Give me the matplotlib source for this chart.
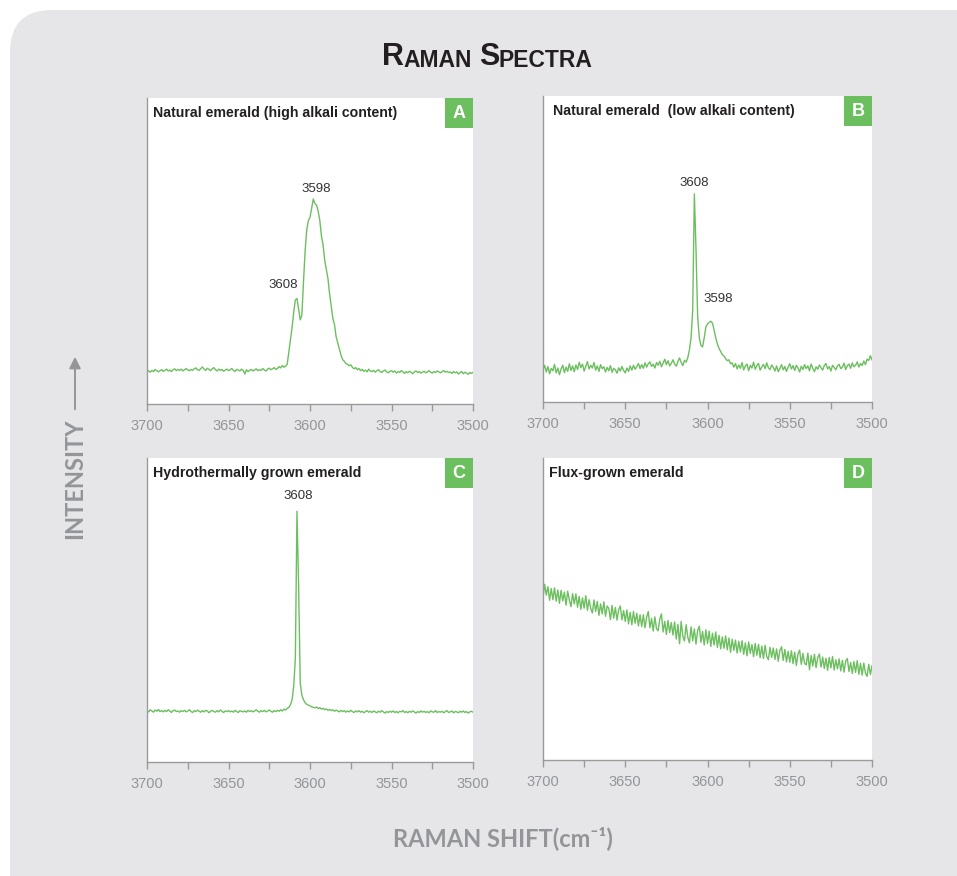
import matplotlib.pyplot as plt
from matplotlib.patches import FancyBboxPatch, Rectangle, FancyArrowPatch
from matplotlib.text import Annotation
import numpy as np

# Raman shift grid in cm-1, 1 cm-1 steps from 3700 down to 3500
shift = np.arange(3700, 3499, -1)

# intensities (arbitrary units, 0-100 scale) read point by point
natural_high = [
    11.2, 10.8, 10.4, 11.0, 10.6, 11.3, 10.9, 10.5, 10.9, 11.2,
    10.7, 11.0, 11.4, 10.8, 11.1, 10.6, 11.2, 11.5, 10.9, 11.3,
    11.0, 11.4, 10.8, 11.2, 11.6, 11.1, 10.9, 11.3, 11.0, 11.5,
    11.8, 11.2, 11.0, 11.6, 12.1, 11.4, 11.0, 11.7, 11.3, 10.9,
    11.5, 11.9, 11.2, 10.8, 11.4, 11.0, 11.3, 10.7, 11.1, 11.4,
    10.9, 11.2, 11.6, 11.0, 10.6, 11.3, 11.1, 10.8, 11.4, 11.0,
    9.8, 11.2, 10.6, 11.0, 11.3, 10.8, 11.1, 11.5, 10.9, 11.2,
    11.0, 11.6, 11.1, 10.8, 11.4, 11.7, 11.2, 11.5, 11.9, 11.3,
    11.6, 12.2, 11.8, 12.6, 12.0, 12.4, 13.0, 17.0, 21.0, 25.0,
    30.0, 34.0, 34.5, 31.0, 27.5, 29.0, 40.0, 50.0, 57.0, 60.0,
    61.0, 64.0, 67.0, 65.5, 65.0, 63.0, 60.0, 55.0, 52.0, 47.0,
    44.0, 41.0, 36.0, 32.0, 28.0, 26.0, 22.0, 20.0, 18.0, 16.0,
    14.5, 14.0, 13.2, 13.0, 12.5, 12.8, 12.0, 11.5, 11.9, 11.2,
    11.6, 10.9, 11.3, 10.7, 11.1, 10.5, 11.4, 10.8, 10.6, 11.0,
    10.4, 10.9, 11.2, 10.6, 10.3, 10.8, 11.1, 10.5, 10.2, 10.7,
    10.9, 10.4, 10.8, 10.1, 10.6, 10.3, 10.9, 10.5, 10.0, 10.6,
    10.2, 10.7, 10.4, 9.9, 10.5, 10.8, 10.3, 10.6, 10.1, 10.4,
    10.7, 10.2, 10.5, 10.9, 10.4, 10.1, 10.6, 10.3, 10.8, 10.5,
    10.2, 10.6, 10.9, 10.4, 10.7, 10.3, 10.5, 10.0, 10.6, 10.2,
    10.5, 9.8, 10.3, 10.6, 9.9, 10.4, 10.1, 9.7, 10.3, 10.0,
    10.4,
]

natural_low = [
    10.5, 12.0, 9.8, 11.6, 9.2, 11.0, 10.2, 12.3, 9.5, 11.1,
    8.9, 10.8, 12.0, 9.6, 11.4, 10.0, 12.5, 10.3, 11.8, 9.9,
    12.1, 10.6, 13.0, 11.2, 12.4, 10.1, 11.7, 13.2, 10.8, 12.0,
    11.1, 12.9, 10.4, 11.8, 10.0, 12.2, 10.9, 11.5, 9.8, 11.3,
    10.2, 11.9, 9.7, 11.0, 10.5, 9.4, 11.2, 10.1, 11.6, 10.3,
    9.5, 11.1, 10.0, 11.8, 10.4, 12.0, 10.7, 11.5, 12.6, 10.9,
    12.2, 11.0, 12.8, 11.4, 12.5, 13.1, 11.6, 12.4, 11.1, 12.9,
    12.0, 13.3, 11.5, 12.7, 14.0, 12.2, 13.5, 11.8, 12.6, 13.8,
    12.4, 11.7, 13.2, 14.4, 12.9, 11.9, 13.6, 13.0, 14.5, 17.0,
    21.0, 30.0, 68.0, 50.0, 28.0, 21.0, 18.5, 18.0, 21.0, 24.5,
    25.5, 26.0, 26.4, 25.8, 23.5, 21.0, 19.0, 17.5, 16.5, 15.5,
    15.0, 14.2, 13.5, 13.8, 12.5, 12.8, 11.4, 12.6, 10.8, 12.1,
    11.0, 12.9, 10.5, 11.8, 12.4, 10.2, 12.0, 11.1, 13.0, 10.7,
    11.9, 12.6, 10.4, 11.5, 12.3, 10.9, 12.8, 11.2, 10.6, 12.1,
    11.3, 10.1, 11.8, 9.9, 11.0, 12.2, 10.5, 11.6, 10.0, 11.4,
    12.5, 10.8, 11.9, 10.3, 12.0, 11.1, 9.8, 11.7, 10.6, 12.2,
    10.9, 11.8, 10.2, 12.4, 11.0, 9.9, 11.5, 10.7, 12.1, 11.2,
    10.4, 11.9, 12.6, 10.8, 11.6, 10.1, 12.0, 11.3, 10.5, 11.8,
    12.3, 10.9, 11.4, 12.7, 10.6, 11.9, 12.4, 11.0, 12.8, 11.5,
    12.0, 13.1, 11.4, 12.6, 11.9, 13.4, 12.2, 14.0, 13.6, 15.1,
    13.8,
]

hydrothermal = [
    17.0, 16.5, 17.2, 16.8, 16.4, 17.1, 16.7, 17.3, 16.6, 16.9,
    16.5, 17.0, 16.6, 17.2, 16.8, 16.3, 16.9, 17.1, 16.6, 16.8,
    16.4, 16.9, 16.6, 17.0, 16.5, 16.8, 17.2, 16.6, 16.3, 16.9,
    16.6, 17.1, 16.7, 16.4, 16.9, 16.5, 17.0, 16.8, 16.2, 16.7,
    17.0, 16.6, 16.4, 16.9, 16.5, 17.1, 16.7, 16.3, 16.8, 16.6,
    16.9, 16.5, 16.8, 16.4, 17.0, 16.6, 16.3, 16.9, 16.7, 16.5,
    16.8, 16.4, 17.0, 16.6, 16.9, 16.5, 16.8, 17.2, 16.7, 16.4,
    16.9, 16.6, 17.0, 16.5, 16.8, 17.1, 16.7, 16.4, 16.9, 16.6,
    17.0, 16.7, 17.2, 16.8, 17.4, 17.1, 17.6, 18.0, 18.8, 20.5,
    25.0, 34.0, 82.5, 58.0, 26.0, 22.0, 20.5, 19.5, 19.0, 18.7,
    18.5, 18.2, 18.0, 17.8, 18.1, 17.6, 17.9, 17.4, 17.7, 17.2,
    17.5, 17.0, 17.3, 16.9, 17.2, 16.7, 17.1, 16.8, 16.5, 17.0,
    16.6, 16.9, 16.4, 16.8, 16.5, 17.0, 16.6, 16.3, 16.8, 16.5,
    16.9, 16.4, 16.7, 16.2, 16.6, 16.9, 16.4, 16.7, 16.3, 16.8,
    16.5, 16.2, 16.7, 16.4, 16.9, 16.5, 16.1, 16.6, 16.3, 16.7,
    16.4, 16.8, 16.3, 16.6, 16.2, 16.7, 16.5, 16.9, 16.3, 16.6,
    16.2, 16.7, 16.4, 16.8, 16.5, 16.1, 16.6, 16.3, 16.8, 16.4,
    16.7, 16.3, 16.6, 16.2, 16.8, 16.5, 16.4, 16.9, 16.3, 16.6,
    16.4, 16.7, 16.2, 16.6, 16.9, 16.3, 16.5, 16.8, 16.2, 16.6,
    16.5, 16.2, 16.7, 16.4, 16.8, 16.3, 16.6, 16.1, 16.5, 16.7,
    16.4,
]

flux_grown = [
    53.8, 58.2, 54.6, 57.4, 52.9, 56.8, 53.1, 57.0, 52.6, 56.3,
    51.9, 56.2, 52.7, 55.6, 51.3, 55.9, 53.0, 50.8, 55.1, 51.7,
    55.0, 50.6, 54.2, 49.9, 53.7, 50.3, 54.4, 49.6, 53.1, 50.2,
    48.7, 53.0, 49.2, 52.5, 47.9, 51.7, 48.4, 52.4, 47.6, 51.0,
    50.2, 46.5, 51.2, 47.0, 50.5, 46.3, 49.8, 51.0, 46.4, 49.5,
    45.9, 49.7, 45.1, 48.9, 44.8, 49.2, 45.3, 48.6, 44.4, 48.1,
    44.2, 48.1, 43.8, 47.3, 49.2, 43.8, 46.9, 42.7, 47.4, 43.5,
    42.8, 46.7, 48.4, 42.4, 45.9, 41.6, 46.2, 42.2, 45.5, 41.4,
    45.7, 40.1, 44.9, 38.5, 45.9, 41.0, 39.4, 44.8, 40.7, 38.8,
    44.1, 39.5, 43.4, 38.4, 42.9, 44.3, 39.0, 42.6, 38.1, 43.1,
    38.6, 42.7, 37.6, 42.0, 38.1, 42.4, 37.3, 41.3, 36.8, 40.8,
    37.0, 41.1, 36.5, 40.4, 35.7, 40.0, 36.3, 39.7, 35.4, 39.3,
    35.8, 39.5, 35.0, 38.8, 34.5, 39.1, 35.3, 38.2, 34.2, 38.6,
    34.7, 38.3, 33.9, 37.7, 33.6, 38.0, 34.3, 33.2, 37.3, 34.0,
    37.1, 33.3, 36.8, 32.7, 36.3, 37.5, 33.0, 36.6, 32.5, 36.0,
    32.4, 36.2, 31.9, 35.7, 31.3, 35.1, 36.4, 31.7, 35.3, 32.0,
    31.5, 35.4, 29.9, 34.6, 31.1, 35.0, 30.6, 33.9, 35.1, 30.8,
    34.1, 30.3, 33.7, 29.7, 34.0, 30.5, 34.3, 29.8, 33.2, 30.2,
    33.5, 29.5, 33.0, 29.1, 32.8, 33.6, 29.3, 32.3, 28.7, 32.6,
    29.0, 32.9, 28.4, 32.0, 28.1, 32.1, 28.8, 27.7, 31.7, 28.3,
    31.2,
]

spectra = [natural_high, natural_low, hydrothermal, flux_grown]
titles = ['Natural emerald (high alkali content)',
          'Natural emerald  (low alkali content)',
          'Hydrothermally grown emerald',
          'Flux-grown emerald']
letters = ['A', 'B', 'C', 'D']
# labelled bands per panel: (band, label offset x pt, label offset y pt)
bands = [[(3608, -10, 10), (3598, 2, 7)],
         [(3608, 0, 8), (3598, 5, 16)],
         [(3608, 1, 11)],
         []]

green = '#6cbf5f'
grey_txt = '#939598'
axis_grey = '#9a9a9a'
ink = '#231f20'

fig = plt.figure(figsize=(9.57, 8.76), dpi=100)
fig.patch.set_facecolor('white')

# rounded grey card behind everything
card = FancyBboxPatch((0.10, -0.6), 10.0, 8.66 + 0.6,
                      boxstyle='round,pad=0,rounding_size=0.42',
                      transform=fig.dpi_scale_trans, facecolor='#e6e6e8',
                      edgecolor='none', zorder=-10)
fig.add_artist(card)

positions = [[0.1536, 0.5388, 0.3407, 0.3493],
             [0.5674, 0.5411, 0.3438, 0.3493],
             [0.1536, 0.1301, 0.3407, 0.3470],
             [0.5674, 0.1324, 0.3438, 0.3447]]
title_x = [0.018, 0.029, 0.018, 0.018]

for k in range(4):
    ax = fig.add_axes(positions[k])
    ax.set_facecolor('white')
    y = np.array(spectra[k])
    ax.plot(shift, y, color=green, lw=1.0)
    ax.set_xlim(3700, 3500)
    ax.set_ylim(0, 100)
    ax.set_yticks([])
    ax.set_xticks([3700, 3650, 3600, 3550, 3500])
    ax.set_xticks([3675, 3625, 3575, 3525], minor=True)
    ax.tick_params(axis='x', which='both', direction='out', length=5,
                   width=1.0, color=axis_grey, labelcolor=grey_txt,
                   labelsize=10.5, pad=5.5)
    for lab in ax.get_xticklabels():
        lab.set_family('Liberation Sans')
    for side in ['top', 'right']:
        ax.spines[side].set_visible(False)
    for side in ['left', 'bottom']:
        ax.spines[side].set_color(axis_grey)
        ax.spines[side].set_linewidth(1.0)

    ax.text(title_x[k], 0.938, titles[k], transform=ax.transAxes,
            family='Liberation Sans', weight='bold', size=10.2,
            color=ink, va='baseline', ha='left')

    bw, bh = 28 / (positions[k][2] * 957), 30 / (positions[k][3] * 876)
    ax.add_patch(Rectangle((1 - bw, 1 - bh), bw, bh, transform=ax.transAxes,
                           facecolor=green, edgecolor='none', clip_on=False))
    ax.text(1 - bw / 2, 1 - bh / 2, letters[k], transform=ax.transAxes,
            family='Liberation Sans', weight='bold', size=13, color='white',
            ha='center', va='center')

    for band, dx, dy in bands[k]:
        yi = y[np.where(shift == band)[0][0]]
        ax.annotate(str(band), xy=(band, yi), xytext=(dx, dy),
                    textcoords='offset points', ha='center', va='center',
                    family='Liberation Sans', size=9.5, color='#333333')

# small-caps title built from pieces
pieces = [('R', 22), ('AMAN', 16.5), (' ', 16.5), ('S', 22), ('PECTRA', 16.5)]
prev = fig.text(382 / 957, 1 - 72 / 876, pieces[0][0], size=pieces[0][1],
                family='Liberation Sans', weight='bold', color=ink,
                va='bottom', ha='left')
for txt, sz in pieces[1:]:
    an = Annotation(txt, xy=(1, 0), xycoords=prev, xytext=(0, 0),
                    textcoords='offset points', size=sz,
                    family='Liberation Sans', weight='bold', color=ink,
                    va='bottom', ha='left')
    fig.add_artist(an)
    prev = an

fig.text(75 / 957, 1 - 479 / 876, 'INTENSITY', rotation=90, ha='center',
         va='center', family='Lato', weight='bold', size=17, color=grey_txt)
arrow = FancyArrowPatch((75 / 957, 1 - 412 / 876), (75 / 957, 1 - 354 / 876),
                        transform=fig.transFigure, arrowstyle='-|>',
                        mutation_scale=17, color=grey_txt, lw=1.4)
fig.add_artist(arrow)

fig.text(503 / 957, 1 - 838 / 876, 'RAMAN SHIFT(cm\u207b\u00b9)', ha='center',
         va='center', family=['Lato', 'DejaVu Sans'], weight='bold', size=17,
         color=grey_txt)

fig.savefig('out.png', dpi=100)
